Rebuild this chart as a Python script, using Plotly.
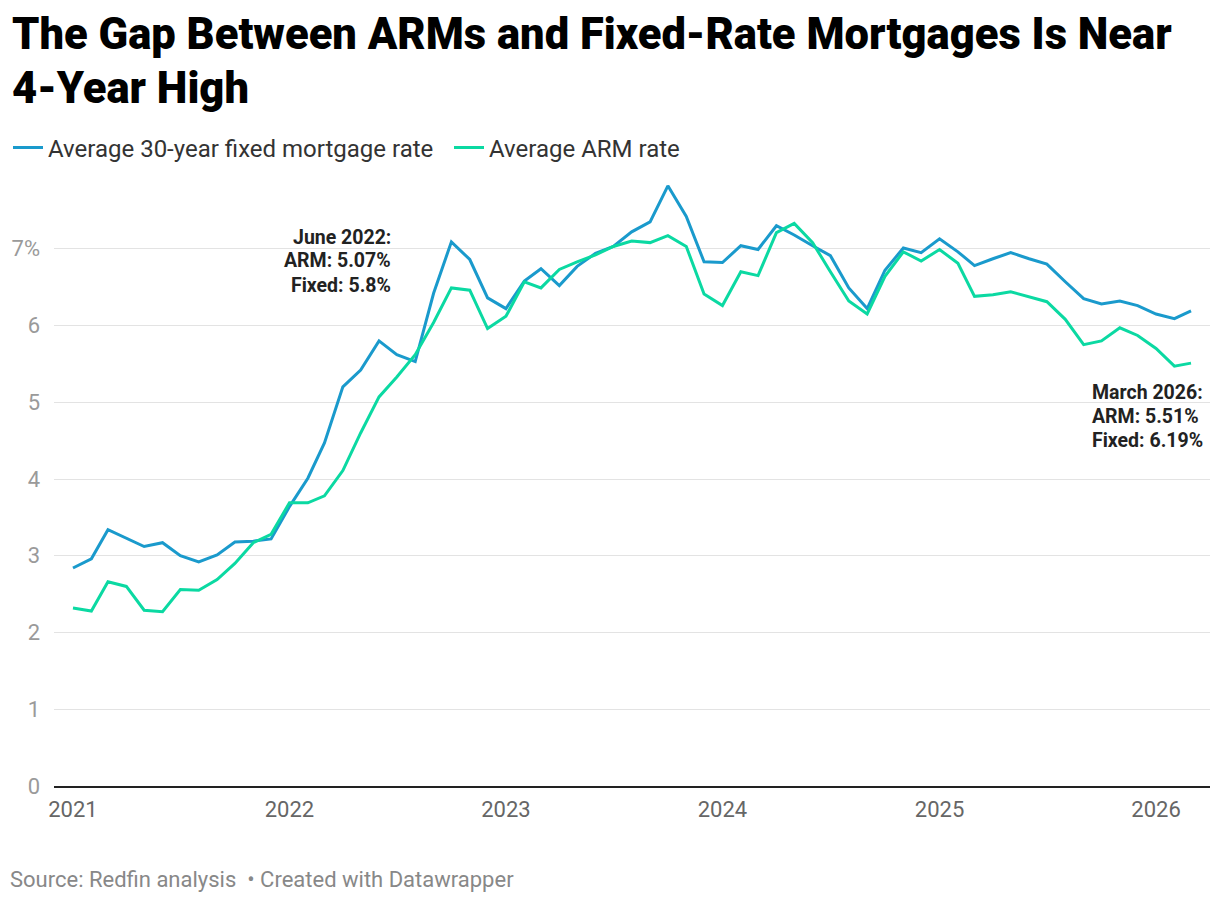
import pandas as pd
import plotly.graph_objs as go

# monthly averages, Jan 2021 - Mar 2026
months = pd.date_range("2021-01-01", "2026-03-01", freq="MS")

fixed_rate = [
    2.84, 2.96, 3.34, 3.23, 3.12, 3.17, 3.00, 2.92, 3.01, 3.18, 3.19, 3.22,
    3.64, 4.01, 4.47, 5.20, 5.42, 5.80, 5.62, 5.53, 6.42, 7.09, 6.86, 6.36,
    6.22, 6.58, 6.74, 6.52, 6.77, 6.94, 7.03, 7.22, 7.35, 7.82, 7.42, 6.83,
    6.82, 7.04, 6.99, 7.30, 7.18, 7.04, 6.91, 6.49, 6.22, 6.72, 7.01, 6.95,
    7.13, 6.96, 6.78, 6.87, 6.95, 6.87, 6.80, 6.57, 6.35, 6.28, 6.32, 6.26,
    6.15, 6.09, 6.19,
]
arm_rate = [
    2.32, 2.28, 2.66, 2.60, 2.29, 2.27, 2.56, 2.55, 2.69, 2.90, 3.17, 3.28,
    3.69, 3.69, 3.78, 4.11, 4.60, 5.07, 5.33, 5.62, 6.04, 6.49, 6.46, 5.96,
    6.12, 6.57, 6.49, 6.73, 6.83, 6.92, 7.03, 7.10, 7.08, 7.17, 7.03, 6.41,
    6.26, 6.70, 6.65, 7.21, 7.33, 7.08, 6.70, 6.32, 6.15, 6.64, 6.96, 6.84,
    6.99, 6.81, 6.38, 6.40, 6.44, 6.37, 6.31, 6.08, 5.75, 5.80, 5.97, 5.87,
    5.70, 5.47, 5.51,
]

y_ticks = [0, 1, 2, 3, 4, 5, 6, 7]
y_labels = ["0", "1", "2", "3", "4", "5", "6", "7%"]
x_ticks = ["2021-01-01", "2022-01-01", "2023-01-01", "2024-01-01", "2025-01-01", "2026-01-01"]
x_labels = ["2021", "2022", "2023", "2024", "2025", "2026"]

title_lines = ["The Gap Between ARMs and Fixed-Rate Mortgages Is Near", "4-Year High"]
june_note = ["June 2022:", "ARM: 5.07%", "Fixed: 5.8%"]
march_note = ["March 2026:", "ARM: 5.51%", "Fixed: 6.19%"]

BLUE = "#1a9acc"
GREEN = "#0bd9a2"

# page body adds 8px, so the figure is a bit smaller than the window
W, H = 1212, 894
L, R, T, B = 46, 10, 164, 116
plot_w = W - L - R
plot_h = H - T - B


def px_x(x):
    # figure pixel -> paper fraction
    return (x - L) / plot_w


def px_y(y):
    return (H - B - y) / plot_h


fig = go.Figure()
fig.add_trace(go.Scatter(x=months, y=fixed_rate, mode="lines",
                         name="Average 30-year fixed mortgage rate",
                         line=dict(color=BLUE, width=3)))
fig.add_trace(go.Scatter(x=months, y=arm_rate, mode="lines",
                         name="Average ARM rate",
                         line=dict(color=GREEN, width=3)))

# title, two lines
for i, line in enumerate(title_lines):
    fig.add_annotation(x=px_x(2), y=px_y(27 + i * 54), xref="paper", yref="paper",
                       text=line, showarrow=False, xanchor="left", yanchor="middle",
                       font=dict(family="Roboto", size=43.5, color="#000000", weight=900))

note_font = dict(family="Roboto", size=19.5, color="#222222", weight=700)
for i, line in enumerate(june_note):
    fig.add_annotation(x=px_x(385), y=px_y(229 + i * 24), xref="paper", yref="paper",
                       text=line, showarrow=False, xanchor="right", yanchor="middle",
                       font=note_font)
for i, line in enumerate(march_note):
    fig.add_annotation(x=px_x(1082), y=px_y(384 + i * 24), xref="paper", yref="paper",
                       text=line, showarrow=False, xanchor="left", yanchor="middle",
                       font=note_font)

fig.add_annotation(x=px_x(0), y=px_y(871), xref="paper", yref="paper",
                   text="Source: Redfin analysis  \u2022 Created with Datawrapper",
                   showarrow=False, xanchor="left", yanchor="middle",
                   font=dict(family="Roboto", size=22, color="#888888"))

fig.update_layout(
    width=W, height=H,
    paper_bgcolor="white", plot_bgcolor="white",
    margin=dict(l=L, r=R, t=T, b=B, autoexpand=False),
    legend=dict(orientation="h", xref="container", x=0, xanchor="left",
                yref="container", y=1 - 140 / H, yanchor="middle",
                font=dict(family="Roboto", size=24, color="#333333"),
                itemwidth=30, entrywidth=396),
    showlegend=True,
    hovermode=False,
)
fig.update_xaxes(type="date", range=["2020-11-30", "2026-04-02"],
                 tickvals=x_ticks, ticktext=x_labels, showgrid=False,
                 showline=True, linecolor="#222222", linewidth=2,
                 ticks="", ticklabelstandoff=3, automargin=False,
                 tickfont=dict(family="Roboto", size=22, color="#666666"))
fig.update_yaxes(range=[0, 8], tickvals=y_ticks, ticktext=y_labels,
                 showgrid=True, gridcolor="#e3e3e3", gridwidth=1,
                 zeroline=False, ticks="", ticklabelstandoff=13, automargin=False,
                 tickfont=dict(family="Roboto", size=22, color="#9a9a9a"))

fig.write_html("out.html")
